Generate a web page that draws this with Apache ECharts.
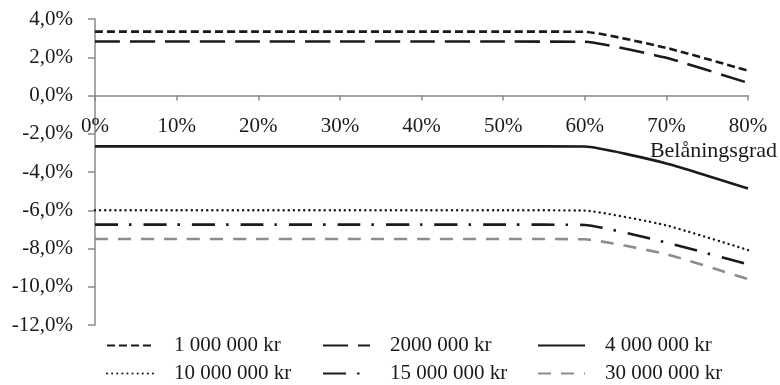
<!DOCTYPE html>
<html><head><meta charset="utf-8">
<script src="https://cdn.jsdelivr.net/npm/echarts@6/dist/echarts.min.js"></script>
<style>html,body{margin:0;padding:0;background:#fff}#c{width:780px;height:385px}</style>
</head><body><div id="c"></div>
<script>
const categories = ['0%','10%','20%','30%','40%','50%','60%','70%','80%'];
const names = ['1 000 000 kr','2000 000 kr','4 000 000 kr','10 000 000 kr','15 000 000 kr','30 000 000 kr'];
const s1 = [3.34,3.34,3.34,3.34,3.34,3.34,3.33,2.49,1.30];
const s2 = [2.82,2.82,2.82,2.82,2.82,2.82,2.81,1.97,0.66];
const s3 = [-2.66,-2.66,-2.66,-2.66,-2.66,-2.66,-2.67,-3.55,-4.86];
const s4 = [-6.00,-6.00,-6.00,-6.00,-6.00,-6.00,-6.02,-6.79,-8.08];
const s5 = [-6.75,-6.75,-6.75,-6.75,-6.75,-6.75,-6.77,-7.69,-8.83];
const s6 = [-7.50,-7.50,-7.50,-7.50,-7.50,-7.50,-7.52,-8.30,-9.60];
const yTicks = {min:-12, max:4, interval:2};

const FONT = '"Liberation Serif", "DejaVu Serif", serif';
const styles = [
  {color:'#1a1a1a', type:[8,4], width:2.6},
  {color:'#1a1a1a', type:[25,10], width:2.6},
  {color:'#1a1a1a', type:'solid', width:2.6},
  {color:'#1a1a1a', type:[0.1,5], width:2.4, cap:'round'},
  {color:'#1a1a1a', type:[23,11,2.5,12], width:2.6},
  {color:'#8c8c8c', type:[13,10], width:2.6}
];
const data = [s1,s2,s3,s4,s5,s6];
const series = data.map((d,i)=>({
  name:names[i], type:'line', data:d, symbol:'none', smooth:0.15,
  lineStyle:styles[i], itemStyle:{color:styles[i].color}
}));
const legPos = [[106,335],[322,335],[537,335],[106,363],[322,363],[537,363]];
const legends = names.map((n,i)=>({
  data:[n], left:legPos[i][0], top:legPos[i][1], padding:0,
  itemWidth:47, itemHeight:14,
  itemStyle:{opacity:0},
  textStyle:{fontFamily:FONT, fontSize:21, color:'#1a1a1a', padding:[0,0,0,15]}
}));
const chart = echarts.init(document.getElementById('c'));
const gridTop = 19, gridBottom = 60, gridH = 385 - gridTop - gridBottom;
chart.setOption({
  animation:false,
  grid:{left:95, right:31, top:gridTop, bottom:gridBottom, containLabel:false},
  legend:legends,
  xAxis:{
    type:'category', data:categories, boundaryGap:false,
    offset: -gridH * (0 - yTicks.min) / (yTicks.max - yTicks.min),
    axisLine:{onZero:false, lineStyle:{color:'#898989', width:1.5}},
    axisTick:{length:5, lineStyle:{color:'#898989', width:1.5}},
    axisLabel:{fontFamily:FONT, fontSize:21, color:'#1a1a1a', margin:20, interval:0},
    name:'Belåningsgrad', nameLocation:'end', nameGap:29,
    nameTextStyle:{fontFamily:FONT, fontSize:22, color:'#1a1a1a', align:'right', verticalAlign:'top', padding:[45,0,0,0]}
  },
  yAxis:{
    type:'value', min:yTicks.min, max:yTicks.max, interval:yTicks.interval,
    axisLine:{show:true, onZero:false, lineStyle:{color:'#898989', width:1.5}},
    axisTick:{show:true, length:7, lineStyle:{color:'#898989', width:1.5}},
    splitLine:{show:false},
    axisLabel:{fontFamily:FONT, fontSize:21, color:'#1a1a1a', margin:22,
      formatter:v=>v.toFixed(1).replace('.',',')+'%'}
  },
  series:series
});
</script></body></html>
